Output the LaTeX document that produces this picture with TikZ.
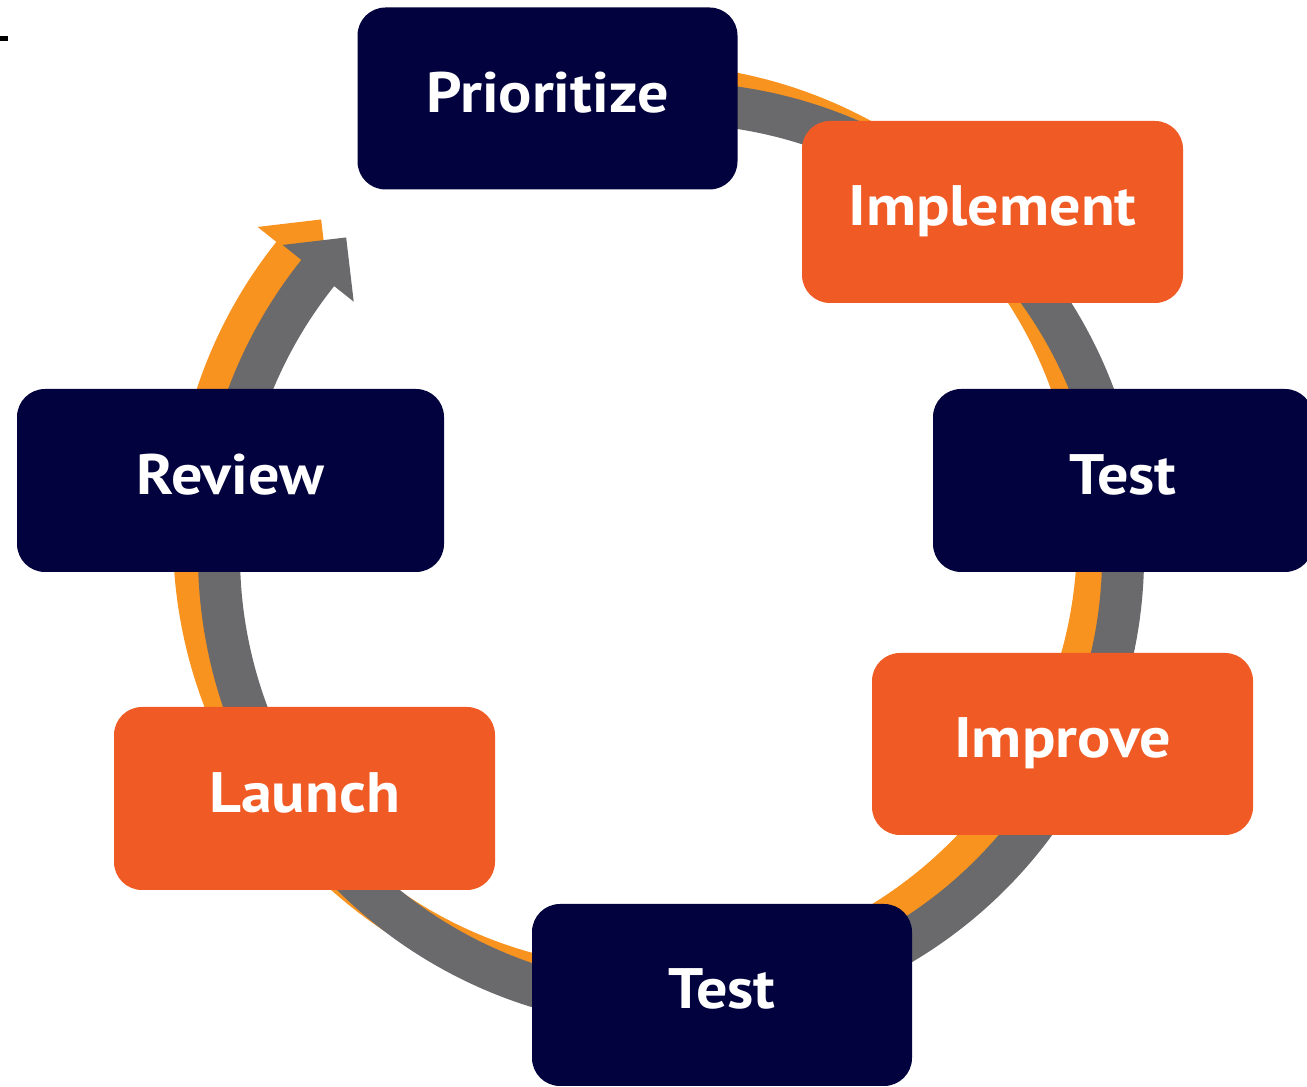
\documentclass[tikz,border=0pt]{standalone}
\usepackage{fontspec}
\setmainfont{PT Sans}
\newfontfamily\stepfont[FakeStretch=1.09]{PT Sans}
\usetikzlibrary{calc}
\definecolor{navy}{HTML}{02023E}
\definecolor{boxorange}{HTML}{F05A24}
\definecolor{ringorange}{HTML}{F7931E}
\definecolor{ringgray}{HTML}{6A6A6C}
\newcommand{\drawcyclering}[2]{%
  \draw[line width=42pt, #2] ($#1+(100:452)$) arc[start angle=100, end angle=-219.4, radius=452];
  \fill[#2] ($#1+(141.4:406)$) -- ($#1+(141.4:497)$) -- ($#1+(141.4:452)+(51.4:45.5)$) -- cycle;
}
\begin{document}
\begin{tikzpicture}[x=1pt,y=1pt,
  stepbox/.style={rounded corners=28pt, minimum width=380pt, minimum height=182pt,
    inner sep=0pt, text=white, font=\stepfont\fontsize{57}{60}\selectfont\bfseries,
    text height=40pt, text depth=12pt},
  navybox/.style={stepbox, fill=navy},
  orangebox/.style={stepbox, fill=boxorange}]
\useasboundingbox (0,0) rectangle (1307,1087);
\clip (0,0) rectangle (1307,1087);
% small mark at top left
\fill[black] (0,1046) rectangle (8,1051);
% cycle ring: orange behind, gray in front
\drawcyclering{(646,550)}{ringorange}
\drawcyclering{(671,532)}{ringgray}
% step boxes
\node[navybox] (prio) at (547.5,988.5) {Prioritize};
\node[orangebox, minimum width=381pt] (impl) at (992.5,875) {Implement};
\node[navybox, minimum height=183pt] (testr) at (1123,606.5) {Test};
\node[orangebox, minimum width=381pt] (impr) at (1062.5,343) {Improve};
\node[navybox] (testb) at (722,92) {Test};
\node[orangebox, minimum width=381pt, minimum height=183pt] (laun) at (304.5,288.5) {Launch};
\node[navybox, minimum width=427pt, minimum height=183pt] (revi) at (230.5,606.5) {Review};
\end{tikzpicture}
\end{document}
